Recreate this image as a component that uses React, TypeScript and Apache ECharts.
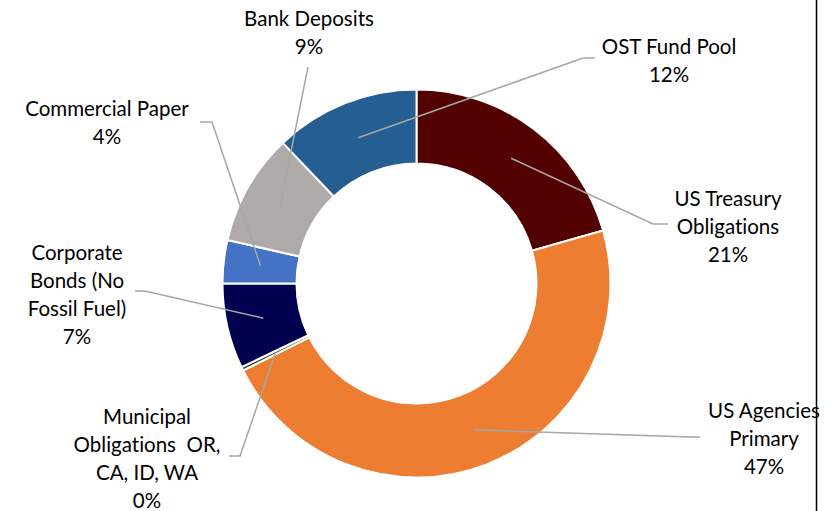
import React, { useEffect, useRef } from "react";
import * as echarts from "echarts";

// ---- data ----
const categories = [
  "US Treasury\nObligations",
  "US Agencies\nPrimary",
  "Municipal\nObligations  OR,\nCA, ID, WA",
  "Corporate\nBonds (No\nFossil Fuel)",
  "Commercial Paper",
  "Bank Deposits",
  "OST Fund Pool",
];
const values = [20.6, 47.0, 0.3, 7.1, 3.6, 9.3, 12.1];
const colors = ["#520000", "#ED7D31", "#375623", "#00004F", "#4472C4", "#AEAAAA", "#255E91"];

// ---- layout (label block centres and leader-line elbows/ends) ----
const CENTER: [number, number] = [416.5, 283.5];
const R_IN = 120;
const R_OUT = 194;
const labelCenters: [number, number][] = [
  [728, 226],
  [764, 438],
  [147, 458],
  [77, 293.5],
  [107, 122],
  [309, 31.5],
  [669, 59.5],
];
const leaderTails: [number, number][][] = [
  [[653, 224], [668, 224]],
  [[690, 437], [700, 437]],
  [[240, 456], [229, 456]],
  [[145, 291], [135, 291]],
  [[212, 122], [200, 122]],
  [[308, 67], [308, 67]],
  [[583, 58], [595, 58]],
];

function midRingPoint(i: number): [number, number] {
  const total = values.reduce((a, b) => a + b, 0);
  let cum = 0;
  for (let k = 0; k < i; k++) cum += values[k];
  const ang = ((cum + values[i] / 2) / total) * Math.PI * 2;
  const r = (R_IN + R_OUT) / 2;
  return [CENTER[0] + r * Math.sin(ang), CENTER[1] - r * Math.cos(ang)];
}

export default function App() {
  const ref = useRef<HTMLDivElement>(null);
  useEffect(() => {
    if (!ref.current) return;
    const chart = echarts.init(ref.current, undefined, { renderer: "svg" });
    const data = categories.map((name, i) => ({
      name,
      value: values[i],
      itemStyle: { color: colors[i] },
    }));
    chart.setOption({
      animation: false,
      backgroundColor: "#fff",
      textStyle: { fontFamily: "Lato" },
      graphic: [
        {
          type: "line",
          shape: { x1: 816.5, y1: 0, x2: 816.5, y2: 511 },
          style: { stroke: "#000", lineWidth: 1.5 },
          z: 10,
        },
      ],
      series: [
        {
          type: "pie",
          z: 2,
          center: CENTER,
          radius: [R_IN, R_OUT],
          startAngle: 90,
          clockwise: true,
          silent: true,
          data,
          itemStyle: { borderColor: "#fff", borderWidth: 2 },
          label: { show: false },
          labelLine: { show: false },
          emphasis: { disabled: true },
        },
        {
          type: "pie",
          z: 5,
          center: CENTER,
          radius: [R_IN, R_OUT],
          startAngle: 90,
          clockwise: true,
          silent: true,
          avoidLabelOverlap: false,
          data: categories.map((name, i) => ({ name, value: values[i] })),
          itemStyle: { color: "rgba(0,0,0,0)", borderWidth: 0 },
          label: {
            show: true,
            position: "outside",
            formatter: (p: any) => `${p.name}\n${Math.round(p.percent)}%`,
            color: "#000",
            fontFamily: "Lato",
            fontSize: 20.5,
            lineHeight: 28,
            align: "center",
          },
          labelLine: {
            show: true,
            lineStyle: { color: "#A6A6A6", width: 1.5 },
          },
          labelLayout: (params: any) => {
            const i = params.dataIndex;
            const start = midRingPoint(i);
            return {
              x: labelCenters[i][0],
              y: labelCenters[i][1],
              align: "center",
              verticalAlign: "middle",
              labelLinePoints: [start, leaderTails[i][0], leaderTails[i][1]],
            };
          },
          emphasis: { disabled: true },
        },
      ],
    });
    return () => chart.dispose();
  }, []);
  return (
    <div
      ref={ref}
      style={{
        position: "fixed",
        left: 0,
        top: 0,
        width: 836,
        height: 511,
        fontVariantLigatures: "none",
      }}
    />
  );
}
